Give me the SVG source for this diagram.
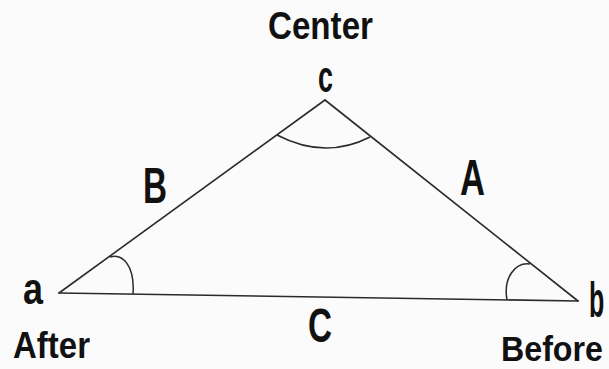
<svg xmlns="http://www.w3.org/2000/svg" width="609" height="369" viewBox="0 0 609 369">
<style>
.t{font-family:"Liberation Sans",Arial,sans-serif;font-weight:bold;fill:#111}
.ln{stroke:#2a2a2a;stroke-width:1.6;fill:none;stroke-linecap:round}
.arc{stroke:#2a2a2a;stroke-width:1.5;fill:none}
</style>
<rect width="609" height="369" fill="#fbfbfb"/>
<g id="connectors">
<line class="ln" x1="325" y1="100" x2="59" y2="293"/>
<line class="ln" x1="325" y1="100" x2="578" y2="301"/>
<line class="ln" x1="59" y1="293" x2="578" y2="301"/>
<path class="arc" d="M277,135 Q325,160 370,137"/>
<path class="arc" d="M110,257 C122,253 135,265 133,294"/>
<path class="arc" d="M507,300 C503,278 515,262 530,264"/>
</g>
<g id="vertex-c">
<text class="t" x="268" y="39" font-size="38" textLength="105" lengthAdjust="spacingAndGlyphs">Center</text>
<text class="t" x="318" y="92" font-size="44" textLength="15" lengthAdjust="spacingAndGlyphs">c</text>
</g>
<g id="vertex-a">
<text class="t" x="23" y="304" font-size="44" textLength="20" lengthAdjust="spacingAndGlyphs">a</text>
<text class="t" x="13" y="358" font-size="36" textLength="77" lengthAdjust="spacingAndGlyphs">After</text>
</g>
<g id="vertex-b">
<text class="t" transform="translate(589,317) scale(0.5,1)" x="0" y="0" font-size="50">b</text>
<text class="t" transform="translate(501,361) scale(0.92,1)" x="0" y="0" font-size="35">Before</text>
</g>
<g id="side-B"><text class="t" x="143" y="203" font-size="50" textLength="24" lengthAdjust="spacingAndGlyphs">B</text></g>
<g id="side-A"><text class="t" x="460" y="195" font-size="50" textLength="25" lengthAdjust="spacingAndGlyphs">A</text></g>
<g id="side-C"><text class="t" x="308" y="342" font-size="49" textLength="24" lengthAdjust="spacingAndGlyphs">C</text></g>
</svg>
